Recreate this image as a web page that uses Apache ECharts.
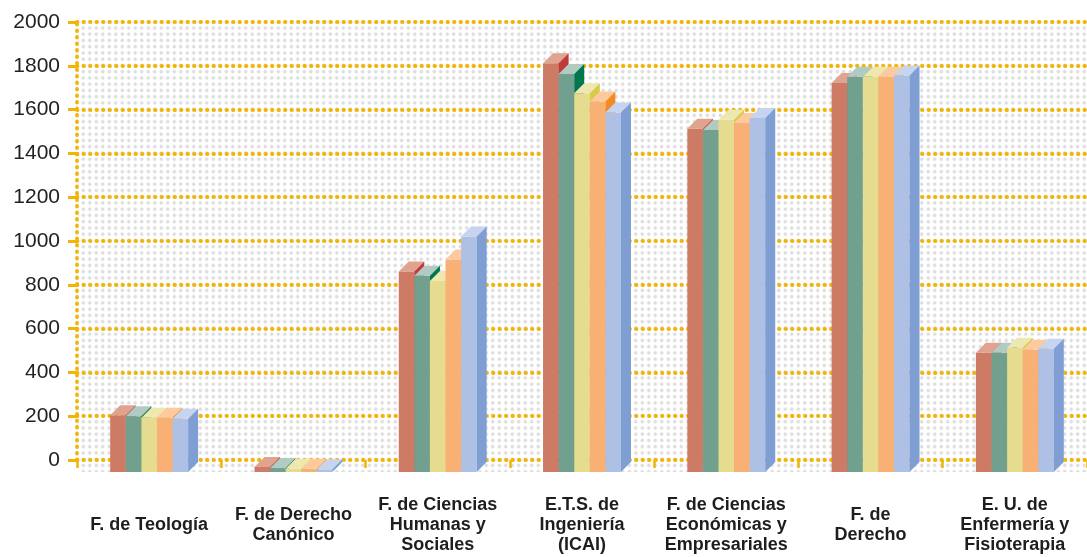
<!DOCTYPE html>
<html>
<head>
<meta charset="utf-8">
<script src="https://cdn.jsdelivr.net/npm/echarts/dist/echarts.min.js"></script>
<style>
  html, body { margin: 0; padding: 0; background: #fff; }
  #wrap { position: relative; width: 1087px; height: 557px; }
  /* grey dot pattern of the plot wall */
  #dots {
    position: absolute; left: 78px; top: 22px; width: 1009px; height: 450px;
    background-image: radial-gradient(circle, #dedede 1.6px, rgba(222,222,222,0) 2.1px);
    background-size: 6.5px 6.26px;
    background-position: 2px 2.8px;
  }
  #chart { position: absolute; left: 0; top: 0; width: 1087px; height: 557px; }
</style>
</head>
<body>
<div id="wrap">
  <div id="dots"></div>
  <div id="chart"></div>
</div>
<script>
const categories = [
  'F. de Teología',
  'F. de Derecho\nCanónico',
  'F. de Ciencias\nHumanas y\nSociales',
  'E.T.S. de\nIngeniería\n(ICAI)',
  'F. de Ciencias\nEconómicas y\nEmpresariales',
  'F. de\nDerecho',
  'E. U. de\nEnfermería y\nFisioterapia',
];

const serie1 = [259, 23, 915, 1866, 1567, 1776, 545];
const serie2 = [254, 18, 896, 1817, 1562, 1805, 545];
const serie3 = [248, 15, 872, 1729, 1608, 1805, 567];
const serie4 = [248, 15, 970, 1692, 1594, 1805, 558];
const serie5 = [243, 12, 1075, 1642, 1617, 1810, 563];

const yTicks = { min: 0, max: 2000, interval: 200 };

// front / top / side colours per serie
const colores = [
  ['#cd7b64', '#e0a38f', '#bf3a3a'],
  ['#71a08e', '#b2cbc2', '#00774f'],
  ['#e6dc8f', '#eee7b0', '#d8cb48'],
  ['#f9b074', '#fdca9f', '#f48a23'],
  ['#aec0e3', '#c7d4ef', '#7f9fd4'],
];

const ORANGE = '#f2b406';
const DEPTH = 10;  // 3d offset of the boxes
const DROP = 12;   // front floor below the back wall

const caja = (idx) => (params, api) => {
  const cat = api.value(0);
  const val = api.value(1);
  const base = api.coord([cat, 0]);
  const top = api.coord([cat, val]);
  const w = api.size([1, 0])[0] * 0.108;
  const x0 = base[0] + (idx - 2.5) * w;
  const x1 = x0 + w;
  const yb = base[1] + DROP;
  const yt = top[1] + DROP;
  const c = colores[idx];
  return {
    type: 'group',
    children: [
      { type: 'rect', shape: { x: x0, y: yt, width: w, height: yb - yt }, style: { fill: c[0] } },
      {
        type: 'polygon',
        shape: { points: [[x0, yt], [x0 + DEPTH, yt - DEPTH], [x1 + DEPTH, yt - DEPTH], [x1, yt]] },
        style: { fill: c[1] },
      },
      {
        type: 'polygon',
        shape: { points: [[x1, yt], [x1 + DEPTH, yt - DEPTH], [x1 + DEPTH, yb - DEPTH], [x1, yb]] },
        style: { fill: c[2] },
      },
    ],
  };
};

const series = [serie1, serie2, serie3, serie4, serie5].map((arr, idx) => ({
  name: 'Serie ' + (idx + 1),
  type: 'custom',
  renderItem: caja(idx),
  encode: { x: 0, y: 1 },
  data: arr.map((v, i) => [i, v]),
}));

const dotted = { color: ORANGE, width: 3.8, type: [0.5, 6], cap: 'round' };

const myChart = echarts.init(document.getElementById('chart'));
myChart.setOption({
  backgroundColor: 'transparent',
  animation: false,
  grid: { left: 77, top: 22, width: 1023, height: 438 },
  xAxis: {
    type: 'category',
    data: categories,
    axisLine: { show: false },
    axisTick: { show: true, length: 8, lineStyle: { color: ORANGE, width: 2.5 } },
    axisLabel: {
      interval: 0,
      margin: 65,
      verticalAlign: 'middle',
      color: '#1e1e1e',
      fontFamily: 'Liberation Sans, Arial, sans-serif',
      fontWeight: 'bold',
      fontSize: 18,
      lineHeight: 20,
    },
    splitLine: { show: false },
  },
  yAxis: {
    type: 'value',
    min: yTicks.min,
    max: yTicks.max,
    interval: yTicks.interval,
    axisLine: { show: true, lineStyle: dotted },
    axisTick: { show: true, length: 9, lineStyle: { color: ORANGE, width: 3, type: 'solid' } },
    axisLabel: {
      margin: 17,
      color: '#222',
      fontFamily: 'Liberation Sans, Arial, sans-serif',
      fontSize: 21,
      formatter: (v) => String(v),
    },
    splitLine: { show: true, lineStyle: dotted },
  },
  series: series,
});
</script>
</body>
</html>
